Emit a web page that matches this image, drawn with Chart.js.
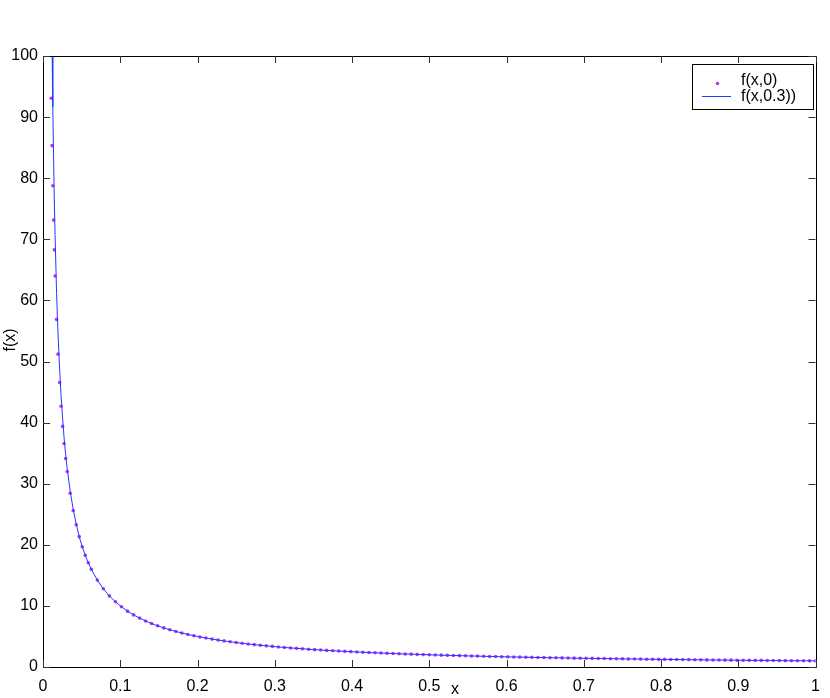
<!DOCTYPE html>
<html>
<head>
<meta charset="utf-8">
<script src="https://cdn.jsdelivr.net/npm/chart.js@4/dist/chart.umd.min.js"></script>
<style>
  html, body { margin: 0; padding: 0; background: #fff; }
  #wrap { width: 830px; height: 698px; }
</style>
</head>
<body>
<div id="wrap"><canvas id="chart" width="830" height="698"></canvas></div>
<script>
'use strict';

// sample points of f(x,0) (denser near x = 0)
const dotX = [
    0.0107, 0.0117, 0.0127, 0.0137, 0.0146, 0.0156,
    0.0176, 0.0195, 0.0215, 0.0234, 0.0254, 0.0273, 0.0293, 0.0313,
    0.0352, 0.0391, 0.0430, 0.0469, 0.0508, 0.0547, 0.0586, 0.0625,
    0.0703, 0.0781, 0.0859, 0.0938, 0.1016, 0.1094, 0.1172, 0.1250, 0.1328, 0.1406,
    0.1484, 0.1563, 0.1641, 0.1719, 0.1797, 0.1875, 0.1953, 0.2031, 0.2109, 0.2188,
    0.2266, 0.2344, 0.2422, 0.2500, 0.2578, 0.2656, 0.2734, 0.2813, 0.2891, 0.2969,
    0.3047, 0.3125, 0.3203, 0.3281, 0.3359, 0.3438, 0.3516, 0.3594, 0.3672, 0.3750,
    0.3828, 0.3906, 0.3984, 0.4063, 0.4141, 0.4219, 0.4297, 0.4375, 0.4453, 0.4531,
    0.4609, 0.4688, 0.4766, 0.4844, 0.4922, 0.5000, 0.5078, 0.5156, 0.5234, 0.5313,
    0.5391, 0.5469, 0.5547, 0.5625, 0.5703, 0.5781, 0.5859, 0.5938, 0.6016, 0.6094,
    0.6172, 0.6250, 0.6328, 0.6406, 0.6484, 0.6563, 0.6641, 0.6719, 0.6797, 0.6875,
    0.6953, 0.7031, 0.7109, 0.7188, 0.7266, 0.7344, 0.7422, 0.7500, 0.7578, 0.7656,
    0.7734, 0.7813, 0.7891, 0.7969, 0.8047, 0.8125, 0.8203, 0.8281, 0.8359, 0.8438,
    0.8516, 0.8594, 0.8672, 0.8750, 0.8828, 0.8906, 0.8984, 0.9063, 0.9141, 0.9219,
    0.9297, 0.9375, 0.9453, 0.9531, 0.9609, 0.9688, 0.9766, 0.9844, 0.9922, 1.0000
];
const dotY = [
    93.09, 85.33, 78.77, 73.14, 68.27, 64.00,
    56.89, 51.20, 46.55, 42.67, 39.38, 36.57, 34.13, 32.00,
    28.44, 25.60, 23.27, 21.33, 19.69, 18.29, 17.07, 16.00,
    14.22, 12.80, 11.64, 10.67, 9.85, 9.14, 8.53, 8.00, 7.53, 7.11,
    6.74, 6.40, 6.10, 5.82, 5.57, 5.33, 5.12, 4.92, 4.74, 4.57,
    4.41, 4.27, 4.13, 4.00, 3.88, 3.76, 3.66, 3.56, 3.46, 3.37,
    3.28, 3.20, 3.12, 3.05, 2.98, 2.91, 2.84, 2.78, 2.72, 2.67,
    2.61, 2.56, 2.51, 2.46, 2.42, 2.37, 2.33, 2.29, 2.25, 2.21,
    2.17, 2.13, 2.10, 2.06, 2.03, 2.00, 1.97, 1.94, 1.91, 1.88,
    1.86, 1.83, 1.80, 1.78, 1.75, 1.73, 1.71, 1.68, 1.66, 1.64,
    1.62, 1.60, 1.58, 1.56, 1.54, 1.52, 1.51, 1.49, 1.47, 1.45,
    1.44, 1.42, 1.41, 1.39, 1.38, 1.36, 1.35, 1.33, 1.32, 1.31,
    1.29, 1.28, 1.27, 1.25, 1.24, 1.23, 1.22, 1.21, 1.20, 1.19,
    1.17, 1.16, 1.15, 1.14, 1.13, 1.12, 1.11, 1.10, 1.09, 1.08,
    1.08, 1.07, 1.06, 1.05, 1.04, 1.03, 1.02, 1.02, 1.01, 1.00
];

// f(x,0.3) sits a little to the right of the dots near the top
const lineHeadX = [0.0098, 0.0107, 0.0117, 0.0127, 0.0137, 0.0146, 0.0156,
    0.0176, 0.0195, 0.0215, 0.0234, 0.0254, 0.0273, 0.0293, 0.0313,
    0.0352, 0.0391, 0.0430];
const lineHeadY = [130.0, 114.4, 101.8, 91.7, 83.5, 76.6, 70.8,
    61.1, 54.3, 48.8, 44.4, 40.7, 37.5, 34.8, 32.5,
    28.8, 25.8, 23.4];

const xTicks = [0, 0.1, 0.2, 0.3, 0.4, 0.5, 0.6, 0.7, 0.8, 0.9, 1];
const yTicks = [0, 10, 20, 30, 40, 50, 60, 70, 80, 90, 100];
const seriesNames = ['f(x,0)', 'f(x,0.3))'];

const dotColor = 'rgb(190, 50, 255)';
const lineColor = 'rgb(30, 60, 255)';
const FONT = '16px "Liberation Sans", Arial, sans-serif';

const toPoints = function(xs, ys) {
    let result = [];
    for (let i = 0; i < xs.length; i++) {
        result.push({ x: xs[i], y: ys[i] });
    }
    return result;
};

const linePoints = toPoints(lineHeadX, lineHeadY)
    .concat(toPoints(dotX.slice(lineHeadX.length - 1), dotY.slice(lineHeadX.length - 1)));

// frame, inward ticks, axis titles and the boxed legend
const framePlugin = {
    id: 'frame',
    afterDraw(chart) {
        const ctx = chart.ctx;
        const a = chart.chartArea;
        const xs = chart.scales.x;
        const ys = chart.scales.y;
        const tick = 7;
        ctx.save();
        ctx.strokeStyle = '#000';
        ctx.lineWidth = 1;
        ctx.beginPath();
        ctx.rect(Math.round(a.left) + 0.5, Math.round(a.top) + 0.5,
            Math.round(a.right - a.left), Math.round(a.bottom - a.top));
        ctx.stroke();

        ctx.strokeStyle = '#333';
        ctx.beginPath();
        for (const v of xTicks) {
            const px = Math.round(xs.getPixelForValue(v)) + 0.5;
            ctx.moveTo(px, a.bottom); ctx.lineTo(px, a.bottom - tick);
            ctx.moveTo(px, a.top); ctx.lineTo(px, a.top + tick);
        }
        for (const v of yTicks) {
            const py = Math.round(ys.getPixelForValue(v)) + 0.5;
            ctx.moveTo(a.left, py); ctx.lineTo(a.left + tick, py);
            ctx.moveTo(a.right, py); ctx.lineTo(a.right - tick, py);
        }
        ctx.stroke();

        // axis titles
        ctx.fillStyle = '#000';
        ctx.font = FONT;
        ctx.textAlign = 'center';
        ctx.textBaseline = 'middle';
        ctx.fillText('x', 455, 690);
        ctx.save();
        ctx.translate(11, 340);
        ctx.rotate(-Math.PI / 2);
        ctx.fillText('f(x)', 0, 0);
        ctx.restore();

        // legend
        ctx.fillStyle = '#fff';
        ctx.fillRect(692, 64, 121, 45);
        ctx.strokeStyle = '#000';
        ctx.strokeRect(692.5, 64.5, 121, 45);
        ctx.fillStyle = dotColor;
        ctx.beginPath();
        ctx.arc(717.5, 83.5, 1.8, 0, Math.PI * 2);
        ctx.fill();
        ctx.strokeStyle = lineColor;
        ctx.beginPath();
        ctx.moveTo(702, 96.5); ctx.lineTo(731, 96.5);
        ctx.stroke();
        ctx.fillStyle = '#000';
        ctx.textAlign = 'left';
        ctx.fillText(seriesNames[0], 741, 81);
        ctx.fillText(seriesNames[1], 741, 97);
        ctx.restore();
    }
};

document.addEventListener('DOMContentLoaded', function() {
    const canvas = document.querySelector('#chart').getContext('2d');
    new Chart(canvas, {
        type: 'scatter',
        data: {
            datasets: [{
                label: seriesNames[0],
                data: toPoints(dotX, dotY),
                showLine: false,
                pointRadius: 1.8,
                pointBackgroundColor: dotColor,
                pointBorderWidth: 0,
                order: 2
            }, {
                label: seriesNames[1],
                data: linePoints,
                showLine: true,
                borderColor: lineColor,
                borderWidth: 1,
                pointRadius: 0,
                tension: 0,
                order: 1
            }]
        },
        options: {
            responsive: false,
            animation: false,
            events: [],
            layout: { padding: { top: 56, right: 12, left: 0, bottom: 0 } },
            plugins: {
                legend: { display: false },
                tooltip: { enabled: false }
            },
            scales: {
                x: {
                    type: 'linear',
                    min: 0,
                    max: 1,
                    afterFit: function(s) { s.height = 31; },
                    afterBuildTicks: function(s) { s.ticks = xTicks.map(v => ({ value: v })); },
                    grid: { display: false, drawTicks: false },
                    border: { display: false },
                    ticks: {
                        color: '#000',
                        font: { family: '"Liberation Sans", Arial, sans-serif', size: 16 },
                        padding: 10,
                        maxRotation: 0,
                        callback: v => String(v)
                    }
                },
                y: {
                    type: 'linear',
                    min: 0,
                    max: 100,
                    afterFit: function(s) { s.width = 43; },
                    afterBuildTicks: function(s) { s.ticks = yTicks.map(v => ({ value: v })); },
                    grid: { display: false, drawTicks: false },
                    border: { display: false },
                    ticks: {
                        color: '#000',
                        font: { family: '"Liberation Sans", Arial, sans-serif', size: 16 },
                        padding: 5,
                        callback: v => String(v)
                    }
                }
            }
        },
        plugins: [framePlugin]
    });
});
</script>
</body>
</html>
